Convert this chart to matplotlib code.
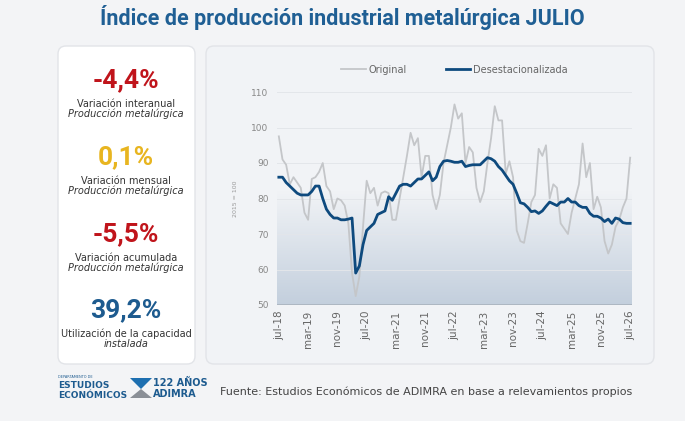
import matplotlib
matplotlib.use("Agg")
import matplotlib.pyplot as plt
import numpy as np
from matplotlib.patches import FancyBboxPatch, Polygon
from matplotlib.colors import LinearSegmentedColormap

months = ["ene","feb","mar","abr","may","jun","jul","ago","sep","oct","nov","dic"]
labels = []
for k in range(97):
    m = (6 + k) % 12
    y = 18 + (6 + k) // 12
    labels.append(f"{months[m]}-{y}")
tick_every = 8

original = [97.5,91,89.5,84,86,84.5,83,76,74,85.5,86,87.5,90,83.5,82,77,80,79.5,78,73,59,52.5,58,72,
            85,81.5,83,78,81.5,82,81.5,74,74,80,86,92,98.5,95,97,86,92,92,81,77,81,90,95,100,
            106.5,102.5,104,90,94.5,93,83,79,82,90,97,106,102,102,87,90.5,86,71,68,67.5,73,79,81,94,
            92,95,80,84,83,73,71.5,70,76,80,84,95.5,86,90,77,80.5,77.5,68,64.5,67,72,74,77.5,80,91.5]
desest = [86,86,84.5,83.5,82.5,81.5,81,81,81,82,83.5,83.5,80,77,75.5,74.5,74.5,74,74,74.2,74.5,59,61,67,
          71,72,73,75.5,76,76.5,80.5,79.5,81.5,83.5,84,84,83.5,84.5,85.5,85.5,86.5,87.5,85,86,89,90.5,90.7,90.5,
          90.2,90.2,90.5,89,89.3,89.5,89.5,89.5,90.5,91.5,91.2,90.5,89,88,86.5,85,84,81.5,78.8,78.5,77.5,76.3,76.5,75.8,
          76.5,77.8,79,78.5,78,79,79,80,79,79,78,77.5,77.5,75.8,75,75,74.5,73.5,74.2,73,74.5,74.2,73.2,73,73]

kpi_vals = ["-4,4%", "0,1%", "-5,5%", "39,2%"]
kpi_l1 = ["Variación interanual", "Variación mensual", "Variación acumulada", "Utilización de la capacidad"]
kpi_l2 = ["Producción metalúrgica", "Producción metalúrgica", "Producción metalúrgica", "instalada"]
kpi_colors = ["#c0141b", "#e8b520", "#c0141b", "#1d5b8f"]

W, H = 685, 421
fig = plt.figure(figsize=(W/100, H/100), dpi=100)
fig.patch.set_facecolor("#f3f4f6")
bg = fig.add_axes([0, 0, 1, 1]); bg.set_xlim(0, W); bg.set_ylim(H, 0); bg.axis("off")

bg.text(342, 18, "Índice de producción industrial metalúrgica JULIO", ha="center", va="center",
        fontsize=15.5, fontweight="bold", color="#1f5f94", family="Roboto")
for (x0, y0, w, h, fc) in [(58, 46, 137, 318, "white"), (206, 46, 448, 318, "#f1f3f6")]:
    bg.add_patch(FancyBboxPatch((x0, y0), w, h, boxstyle="round,pad=0,rounding_size=8",
                                fc=fc, ec="#e2e4e8", lw=1))
ys = [80, 157, 234, 310]
for y, v, a, b, c in zip(ys, kpi_vals, kpi_l1, kpi_l2, kpi_colors):
    bg.text(126, y, v, ha="center", va="center", fontsize=19, fontweight="bold", color=c, family="Roboto")
    bg.text(126, y+24, a, ha="center", va="center", fontsize=7, color="#333333")
    bg.text(126, y+34, b, ha="center", va="center", fontsize=7, color="#333333", style="italic")

bg.text(58, 377, "DEPARTAMENTO DE", fontsize=2.5, color="#1d5b8f", va="center")
bg.text(58, 385, "ESTUDIOS", fontsize=6.5, fontweight="bold", color="#1d5b8f", va="center")
bg.text(58, 395, "ECONÓMICOS", fontsize=6.5, fontweight="bold", color="#1d5b8f", va="center")
bg.add_patch(Polygon([[130, 378], [152, 378], [141, 389]], fc="#1d6fb0"))
bg.add_patch(Polygon([[130, 398], [152, 398], [141, 389]], fc="#8a8f96"))
bg.text(153, 383, "122 AÑOS", fontsize=7, fontweight="bold", color="#1d5b8f", va="center")
bg.text(153, 394, "ADIMRA", fontsize=7, fontweight="bold", color="#1d5b8f", va="center")
bg.text(220, 392, "Fuente: Estudios Económicos de ADIMRA en base a relevamientos propios",
        fontsize=8, color="#444444", va="center")

ax = fig.add_axes([277/W, 1-305/H, (632-277)/W, (305-92)/H])
ax.set_facecolor("none")
x = np.arange(len(original))
ax.set_xlim(-0.5, 96.5); ax.set_ylim(50, 110)
grad = np.linspace(0, 1, 256).reshape(-1, 1)
cm = LinearSegmentedColormap.from_list("g", ["#c3cfdd", "#f1f3f6"])
ax.imshow(grad, extent=[-0.5, 96.5, 50, 82], aspect="auto", cmap=cm, origin="lower", zorder=0)
for g in range(60, 111, 10):
    ax.axhline(g, color="#e3e6ea", lw=0.7, zorder=1)
ax.plot(x, original, color="#c4c6c9", lw=1.3, zorder=2, label="Original")
ax.plot(x, desest, color="#0e4a7e", lw=2, zorder=3, label="Desestacionalizada")
ax.axhline(50, color="#555555", lw=1, zorder=4)
for s in ax.spines.values(): s.set_visible(False)
ax.set_yticks(range(50, 111, 10))
ax.tick_params(axis="y", length=0, labelsize=6.5, labelcolor="#888888", pad=6)
ax.set_xticks(x[::tick_every])
ax.set_xticklabels(labels[::tick_every], rotation=90, fontsize=7.5, color="#666666")
ax.tick_params(axis="x", length=0, pad=4)
ax.set_ylabel("2015 = 100", fontsize=4.5, color="#999999", labelpad=10)
ax.legend(loc="lower center", bbox_to_anchor=(0.5, 1.04), ncol=2, frameon=False, fontsize=7,
          labelcolor="#666666", handlelength=2.5, columnspacing=4, handletextpad=0.3)
fig.savefig("out.png", dpi=100, facecolor=fig.get_facecolor())
